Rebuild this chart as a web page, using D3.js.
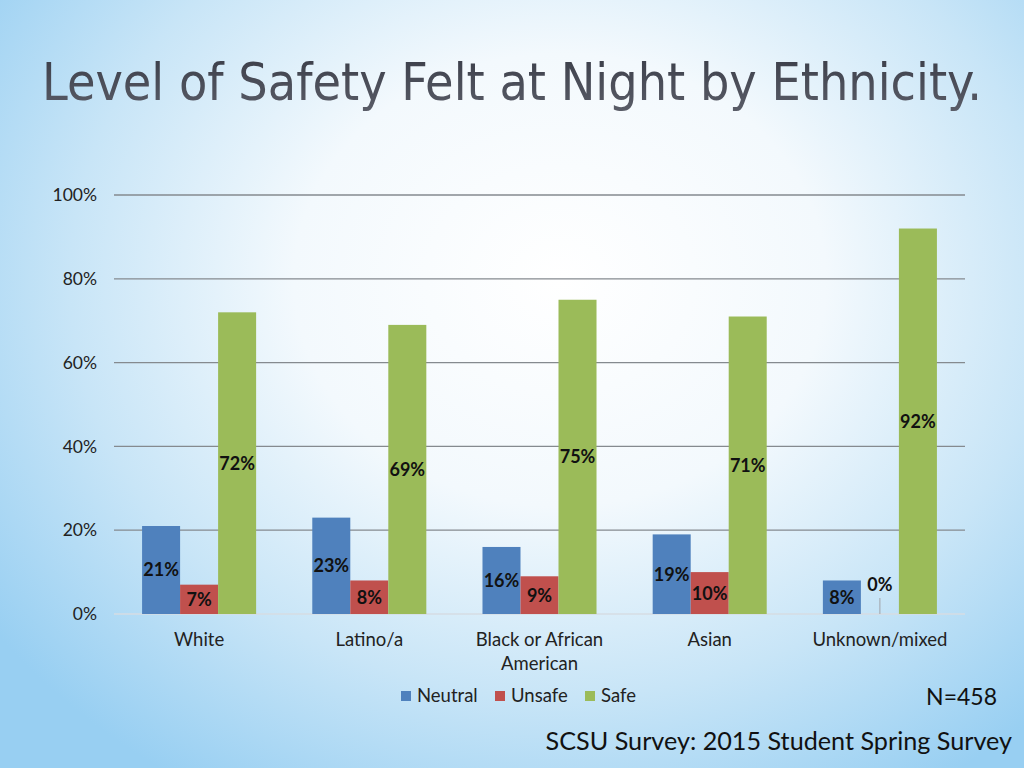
<!DOCTYPE html>
<html><head><meta charset="utf-8">
<script src="https://cdn.jsdelivr.net/npm/d3@7"></script>
<style>html,body{margin:0;padding:0;overflow:hidden}</style>
</head><body>
<svg id="c" width="1024" height="768"></svg>
<script>
const categories = ["White", "Latino/a", "Black or African American", "Asian", "Unknown/mixed"];
const categoryLines = [["White"], ["Latino/a"], ["Black or African", "American"], ["Asian"], ["Unknown/mixed"]];
const seriesNames = ["Neutral", "Unsafe", "Safe"];
const neutral = [0.21, 0.23, 0.16, 0.19, 0.08];
const unsafe = [0.07, 0.08, 0.09, 0.10, 0.00];
const safe = [0.72, 0.69, 0.75, 0.71, 0.92];
const tickValues = [0, 0.2, 0.4, 0.6, 0.8, 1.0];
const titleText = "Level of Safety Felt at Night by Ethnicity.";
const noteText = "N=458";
const sourceText = "SCSU Survey: 2015 Student Spring Survey";
const colors = ["#4f81bd", "#c0504d", "#9bbb59"];

const seriesValues = [neutral, unsafe, safe];
const svg = d3.select("#c");
const defs = svg.append("defs");
const rg = defs.append("radialGradient").attr("id", "bg")
  .attr("gradientUnits", "userSpaceOnUse")
  .attr("cx", 560).attr("cy", 280).attr("r", 700)
  .attr("gradientTransform", "translate(560,280) scale(1,0.85) translate(-560,-280)");
rg.append("stop").attr("offset", "0").attr("stop-color", "#ffffff");
rg.append("stop").attr("offset", "0.38").attr("stop-color", "#f3f9fd");
rg.append("stop").attr("offset", "0.7").attr("stop-color", "#c8e5f7");
rg.append("stop").attr("offset", "1").attr("stop-color", "#98cff2");
svg.append("rect").attr("width", 1024).attr("height", 768).attr("fill", "url(#bg)");

const tg = defs.append("linearGradient").attr("id", "tg").attr("x1", 0).attr("y1", 0).attr("x2", 0).attr("y2", 1);
tg.append("stop").attr("offset", "0").attr("stop-color", "#3a3d48");
tg.append("stop").attr("offset", "1").attr("stop-color", "#5a5d68");

const title = svg.append("text").attr("x", 42).attr("y", 100)
  .attr("font-family", "'DejaVu Sans Condensed','Open Sans',sans-serif")
  .attr("font-size", 58).attr("fill", "url(#tg)")
  .text(titleText);
const tw = title.node().getComputedTextLength();
if (tw > 0) title.attr("font-size", 58 * 940 / tw);

const x0 = 114, x1 = 965, yTop = 195, yBot = 614;
const x = d3.scaleBand().domain(categories).range([x0, x1]).paddingInner(0.33).paddingOuter(0.165);
const xs = d3.scaleBand().domain(seriesNames).range([0, x.bandwidth()]);
const y = d3.scaleLinear().domain([0, 1]).range([yBot, yTop]);

const font = "Lato, 'Open Sans', sans-serif";

// gridlines
const grid = svg.append("g");
grid.selectAll("line").data(tickValues).join("line")
  .attr("x1", x0).attr("x2", x1)
  .attr("y1", d => y(d)).attr("y2", d => y(d))
  .attr("stroke", d => d === 0 ? "#d6dde3" : "#858a8f").attr("stroke-width", 1.3);

// y axis labels
const yAxis = d3.axisLeft(y).tickValues(tickValues).tickFormat(d3.format(".0%")).tickSize(0).tickPadding(0);
const ya = svg.append("g").attr("transform", "translate(97,0)").call(yAxis);
ya.select(".domain").remove();
ya.selectAll("text").attr("font-family", font).attr("font-size", 17.5).attr("fill", "#222");

// bars
const groups = svg.append("g").selectAll("g").data(categories).join("g")
  .attr("transform", c => `translate(${x(c)},0)`);
seriesNames.forEach((s, si) => {
  groups.append("rect")
    .attr("x", xs(s)).attr("width", xs.bandwidth())
    .attr("y", (c, i) => y(seriesValues[si][i]))
    .attr("height", (c, i) => yBot - y(seriesValues[si][i]))
    .attr("fill", colors[si]);
});

// data labels
const fmt = d3.format(".0%");
seriesNames.forEach((s, si) => {
  groups.each(function(c, i) {
    const v = seriesValues[si][i];
    const g = d3.select(this);
    const cx = xs(s) + xs.bandwidth() / 2;
    if (v > 0) {
      g.append("text").attr("x", cx).attr("y", y(v / 2)).attr("dy", "0.36em")
        .attr("text-anchor", "middle").attr("font-family", font).attr("font-weight", "bold")
        .attr("font-size", 18).attr("fill", "#111").text(fmt(v));
    } else {
      g.append("line").attr("x1", cx).attr("x2", cx).attr("y1", y(0) - 16).attr("y2", y(0))
        .attr("stroke", "#a0a4a8").attr("stroke-width", 1);
      g.append("text").attr("x", cx).attr("y", y(0) - 29).attr("dy", "0.36em")
        .attr("text-anchor", "middle").attr("font-family", font).attr("font-weight", "bold")
        .attr("font-size", 18).attr("fill", "#111").text(fmt(v));
    }
  });
});

// category labels
categories.forEach((c, i) => {
  const t = svg.append("text").attr("x", x(c) + x.bandwidth() / 2).attr("y", 646)
    .attr("text-anchor", "middle").attr("font-family", font).attr("font-size", 18.5).attr("fill", "#222");
  categoryLines[i].forEach((ln, li) => {
    t.append("tspan").attr("x", x(c) + x.bandwidth() / 2).attr("dy", li === 0 ? 0 : 24).text(ln);
  });
});

// legend
const legendX = [401, 495, 585];
seriesNames.forEach((s, si) => {
  svg.append("rect").attr("x", legendX[si]).attr("y", 691).attr("width", 10).attr("height", 10).attr("fill", colors[si]);
  svg.append("text").attr("x", legendX[si] + 16).attr("y", 702)
    .attr("font-family", font).attr("font-size", 18.5).attr("fill", "#222").text(s);
});

svg.append("text").attr("x", 997).attr("y", 705).attr("text-anchor", "end")
  .attr("font-family", font).attr("font-size", 23).attr("fill", "#111").text(noteText);
svg.append("text").attr("x", 1012).attr("y", 750).attr("text-anchor", "end")
  .attr("font-family", font).attr("font-size", 25.2).attr("fill", "#111").text(sourceText);
</script>
</body></html>
